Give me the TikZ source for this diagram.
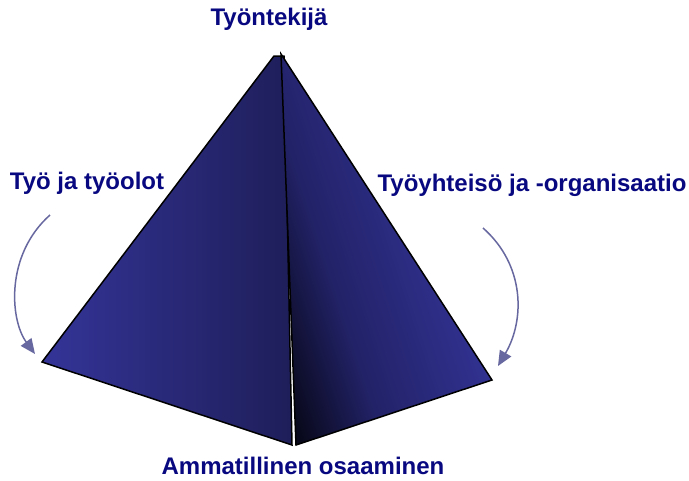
\documentclass[tikz,border=0pt]{standalone}
\usepackage{fontspec}
\setmainfont{Liberation Sans}
\usetikzlibrary{arrows.meta}
\definecolor{labelblue}{RGB}{8,8,128}
\definecolor{facelight}{RGB}{52,52,152}
\definecolor{facemid}{RGB}{34,34,104}
\definecolor{facedark}{RGB}{30,30,90}
\definecolor{facedeep}{RGB}{8,8,26}
\definecolor{arrowgray}{RGB}{104,104,160}
\pgfdeclareverticalshading{rightface}{100bp}{color(0bp)=(facedeep);
  color(22bp)=(facedeep); color(38bp)=(facemid); color(66bp)=(facelight);
  color(100bp)=(facelight)}
\tikzset{
  label/.style={text=labelblue, font=\fontsize{24}{28}\selectfont\bfseries},
  face/.style={draw=black, line width=1.5pt, line join=miter},
  turn/.style={->, arrowgray, line width=1.5pt}
}
\begin{document}
\begin{tikzpicture}[x=1pt, y=-1pt, >={Triangle[length=15pt,width=13pt]}]
    \useasboundingbox (0,0) rectangle (689,480);

    % corners of the two faces
    \coordinate (topL) at (274,56);
    \coordinate (hidL) at (284,56);
    \coordinate (left) at (42,362);
    \coordinate (botL) at (292,445);
    \coordinate (topR) at (281,54);
    \coordinate (botR) at (296,445);
    \coordinate (right) at (492,380);

    \shadedraw[face, left color=facelight, right color=facedark]
        (topL) -- (left) -- (botL) -- (hidL) -- cycle;
    \shadedraw[face, shading=rightface, shading angle=-72]
        (topR) -- (botR) -- (right) -- cycle;

    \node[label] (worker) at (269,19) {Työntekijä};
    \node[label] (work) at (87,183) {Työ ja työolot};
    \node[label] (community) at (532,185) {Työyhteisö ja -organisaatio};
    \node[label] (skills) at (303,466) {Ammatillinen osaaminen};

    % curved hints towards the corners
    \coordinate (workA) at (50,215);
    \coordinate (workB) at (35,354);
    \coordinate (commA) at (483,228);
    \coordinate (commB) at (498,366);
    \draw[turn] (workA) .. controls (5,255) and (10,320) .. (workB);
    \draw[turn] (commA) .. controls (525,265) and (525,320) .. (commB);
\end{tikzpicture}
\end{document}
